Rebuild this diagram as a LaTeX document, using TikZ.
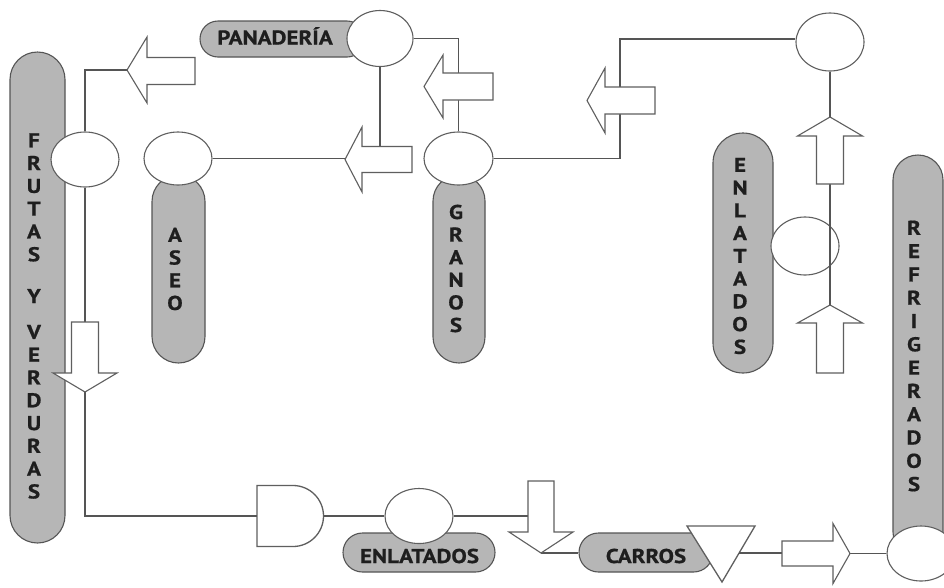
\documentclass[tikz,border=0pt]{standalone}
\usepackage{fontspec}
\setmainfont{PT Sans}
\newfontfamily\lblfont{PT Sans}[FakeStretch=1.15, FakeBold=0.8]
\usetikzlibrary{shapes.geometric}
\definecolor{pillfill}{RGB}{182,182,182}
\definecolor{pilldraw}{RGB}{85,85,85}
\definecolor{wirecol}{RGB}{85,85,85}
\definecolor{ink}{RGB}{30,30,30}
\definecolor{shapeline}{RGB}{95,95,95}
\begin{document}
\begin{tikzpicture}[x=1pt,y=-1pt,
  pill/.style={draw=pilldraw, fill=pillfill, line width=1.1pt, rounded corners=#1, inner sep=0pt},
  vtext/.style={align=center, inner sep=0pt, text=ink, font=\lblfont\bfseries\fontsize{20}{#1}\selectfont},
  vtext/.default=22.8,
  htext/.style={inner sep=0pt, anchor=base, text=ink, font=\lblfont\bfseries\fontsize{20}{22}\selectfont},
  ell/.style={ellipse, draw=shapeline, fill=white, line width=1.1pt, inner sep=0pt, minimum width=68pt, minimum height=55pt},
  conn/.style={draw=wirecol, line width=1.4pt},
  barrow/.style={draw=shapeline, fill=white, line width=1.1pt, line join=miter},
  gateshape/.style={draw=shapeline, fill=white, line width=1.3pt}
]
\useasboundingbox (0,0) rectangle (944,587);
\fill[white] (0,0) rectangle (944,587);

% pills
\node[pill=27.5pt, minimum width=55pt, minimum height=491pt] (pfr) at (37.5,297.5) {};
\node[pill=26.5pt, minimum width=53pt, minimum height=188pt] (pas) at (178.5,269) {};
\node[pill=26pt, minimum width=52pt, minimum height=188pt] (pgr) at (459,269) {};
\node[pill=30pt, minimum width=60pt, minimum height=240pt] (pen) at (743,253) {};
\node[pill=25pt, minimum width=50pt, minimum height=402pt] (pre) at (918,356) {};
\node[pill=18pt, minimum width=165pt, minimum height=36pt] (ppa) at (282.5,39) {};
\node[pill=19.5pt, minimum width=152pt, minimum height=39pt] (pel) at (419,552.5) {};
\node[pill=19.5pt, minimum width=134pt, minimum height=39pt] (pca) at (646,552.5) {};

% pill texts
\node[vtext] (tfr) at (34,316) {F\\R\\U\\T\\A\\S\\[19pt]Y\\[13pt]V\\E\\R\\D\\U\\R\\A\\S};
\node[vtext=22.7] (tas) at (175,269) {A\\S\\E\\O};
\node[vtext=22.6] (tgr) at (456,268.5) {G\\R\\A\\N\\O\\S};
\node[vtext=22.75] (ten) at (740,256) {E\\N\\L\\A\\T\\A\\D\\O\\S};
\node[vtext=23.3] (tre) at (914,356) {R\\E\\F\\R\\I\\G\\E\\R\\A\\D\\O\\S};
\node[htext] (tpa) at (275,44.5) {PANADERÍA};
\node[htext] (tel) at (419.5,563) {ENLATADOS};
\node[htext] (tca) at (646,563) {CARROS};

% ellipses
\node[ell, minimum width=66pt, minimum height=56pt] (epa) at (380,38.5) {};
\node[ell] (efr) at (85,159.5) {};
\node[ell, minimum height=53pt] (eas) at (178,158.5) {};
\node[ell, minimum width=69pt, minimum height=53pt] (egr) at (458.5,158.5) {};
\node[ell, minimum height=58pt] (etr) at (830,42) {};
\node[ell, minimum height=58pt] (een) at (805,246) {};
\node[ell] (eel) at (419,516) {};
\node[ell] (ere) at (921,553.5) {};

% gate and triangle
\draw[gateshape] (257,485.5) -- (293,485.5) arc[start angle=-90, end angle=90, radius=30.5] -- (257,546.5) -- cycle;
\draw[gateshape] (687,526) -- (755,526) -- (722,582) -- cycle;

% connector end points
\coordinate (a1t) at (127,70);
\coordinate (a2t) at (345,159.5);
\coordinate (a2top) at (380,146.5);
\coordinate (k1) at (620,39);
\coordinate (a5s) at (85,322);
\coordinate (a5t) at (85,392);
\coordinate (gw) at (257,516);
\coordinate (ge) at (323.5,516);
\coordinate (a6in) at (528,516);
\coordinate (a6t) at (541,553);
\coordinate (trir) at (739,553);
\coordinate (a7s) at (782,553);
\coordinate (a7t) at (850,553.5);
\coordinate (a8t) at (830,117);
\coordinate (a8b) at (830,184);
\coordinate (a9t) at (830,305);

% connectors
\draw[conn] (efr.north) |- (a1t);
\draw[conn] (efr.south) -- (a5s);
\draw[conn] (a5t) |- (gw);
\draw[conn] (ge) -- (eel.west);
\draw[conn] (eel.east) -- (a6in);
\draw[conn] (a6t) -- (a6t -| pca.west);
\draw[conn] (trir) -- (a7s);
\draw[conn] (a7t) -- (a7t -| ere.west);
\draw[conn] (eas.east) -- (eas.east -| a2t);
\draw[conn] (epa.south) -- (a2top);
\draw[conn] (epa.east) -| (egr.north);
\draw[conn] (egr.east) -| (k1) -- (k1 -| etr.west);
\draw[conn] (etr.south) -- (a8t);
\draw[conn] (a8b) -- (a9t);

% block arrows
\draw[barrow] (127,70) -- (147,37) -- (147,57.5) -- (195,57.5) -- (195,84.5) -- (147,84.5) -- (147,103) -- cycle;
\draw[barrow] (345,159.5) -- (362,127) -- (362,146.5) -- (412,146.5) -- (412,172.5) -- (362,172.5) -- (362,192) -- cycle;
\draw[barrow] (424,86.5) -- (443,55) -- (443,73) -- (493,73) -- (493,100) -- (443,100) -- (443,118) -- cycle;
\draw[barrow] (587,100.5) -- (605,68) -- (605,87) -- (655,87) -- (655,114) -- (605,114) -- (605,133) -- cycle;
\draw[barrow] (85,392) -- (53,373) -- (71.5,373) -- (71.5,322) -- (98.5,322) -- (98.5,373) -- (117,373) -- cycle;
\draw[barrow] (541,553) -- (509,532) -- (528,532) -- (528,481) -- (554,481) -- (554,532) -- (573,532) -- cycle;
\draw[barrow] (850,553.5) -- (833,523.5) -- (833,541) -- (782,541) -- (782,566) -- (833,566) -- (833,583.5) -- cycle;
\draw[barrow] (830,117) -- (797.5,136) -- (816.5,136) -- (816.5,184) -- (843.5,184) -- (843.5,136) -- (862.5,136) -- cycle;
\draw[barrow] (830,305) -- (797.5,323) -- (816.5,323) -- (816.5,373) -- (843.5,373) -- (843.5,323) -- (862.5,323) -- cycle;
\end{tikzpicture}
\end{document}
